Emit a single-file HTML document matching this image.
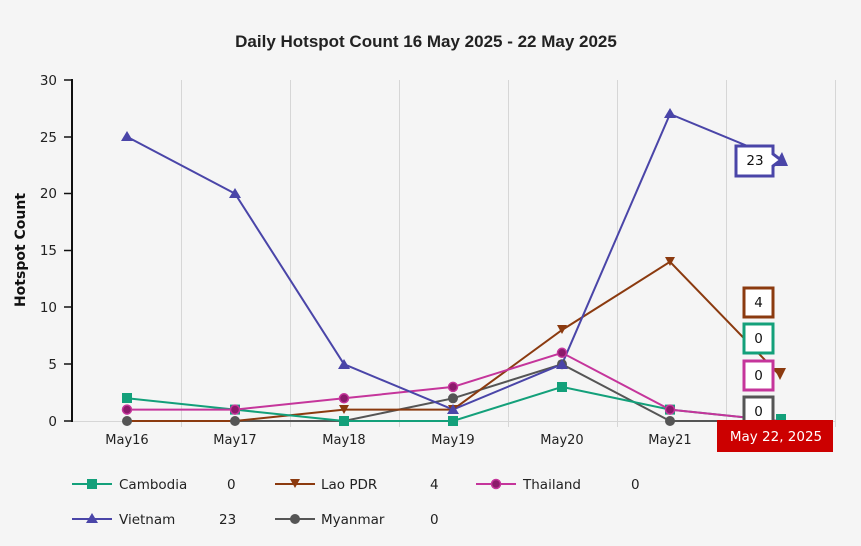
<!DOCTYPE html><html><head><meta charset="utf-8"><style>
body{margin:0;background:#f5f5f5;}
svg{display:block;font-family:"DejaVu Sans","Liberation Sans",sans-serif;}
</style></head><body>
<svg width="861" height="546" viewBox="0 0 861 546">
<rect width="861" height="546" fill="#f5f5f5"/>
<text x="426" y="47" text-anchor="middle" font-size="17" font-weight="bold" fill="#222" font-family="Liberation Sans, sans-serif">Daily Hotspot Count 16 May 2025 - 22 May 2025</text>
<g stroke="#d6d6d6" stroke-width="1">
<line x1="181.5" y1="80" x2="181.5" y2="427"/><line x1="290.5" y1="80" x2="290.5" y2="427"/><line x1="399.5" y1="80" x2="399.5" y2="427"/><line x1="508.5" y1="80" x2="508.5" y2="427"/><line x1="617.5" y1="80" x2="617.5" y2="427"/><line x1="726.5" y1="80" x2="726.5" y2="427"/><line x1="835.5" y1="80" x2="835.5" y2="427"/>
<line x1="72" y1="421.5" x2="835" y2="421.5"/>
</g>
<line x1="72" y1="79" x2="72" y2="422" stroke="#111" stroke-width="2"/>
<g stroke="#111" stroke-width="1.5"><line x1="64" y1="80" x2="72" y2="80"/><line x1="64" y1="137" x2="72" y2="137"/><line x1="64" y1="193.5" x2="72" y2="193.5"/><line x1="64" y1="250.5" x2="72" y2="250.5"/><line x1="64" y1="307" x2="72" y2="307"/><line x1="64" y1="364" x2="72" y2="364"/><line x1="64" y1="421" x2="72" y2="421"/></g>
<g font-size="13.5" fill="#222" text-anchor="end">
<text x="57" y="85">30</text><text x="57" y="142">25</text><text x="57" y="198">20</text><text x="57" y="255">15</text><text x="57" y="312">10</text><text x="57" y="369">5</text><text x="57" y="426">0</text></g>
<text transform="translate(25,250) rotate(-90)" text-anchor="middle" font-size="14" font-weight="bold" fill="#111">Hotspot Count</text>
<g font-size="13" fill="#222" text-anchor="middle">
<text x="127" y="444">May16</text><text x="235" y="444">May17</text><text x="344" y="444">May18</text><text x="453" y="444">May19</text><text x="562" y="444">May20</text><text x="670" y="444">May21</text></g>
<polyline fill="none" stroke="#555" stroke-width="2" points="127,421 235,421 344,421 453,398.3 562,364.2 670,421 780,421"/>
<polyline fill="none" stroke="#8b3a0f" stroke-width="2" points="127,421 235,421 344,409.6 453,409.6 562,330 670,261.8 780,375.5"/>
<polyline fill="none" stroke="#13a07a" stroke-width="2" points="127,398.3 235,409.6 344,421 453,421 562,386.9 670,409.6 780,421"/>
<polyline fill="none" stroke="#c5359b" stroke-width="2" points="127,409.6 235,409.6 344,398.3 453,386.9 562,352.8 670,409.6 780,421"/>
<polyline fill="none" stroke="#4a45a8" stroke-width="2" points="127,136.8 235,193.6 344,364.2 453,409.6 562,364.2 670,114 780,159.5"/>
<g fill="#555"><circle cx="127" cy="421" r="5"/><circle cx="235" cy="421" r="5"/><circle cx="344" cy="421" r="5"/><circle cx="453" cy="398.3" r="5"/><circle cx="562" cy="364.2" r="5"/><circle cx="670" cy="421" r="5"/></g>
<g fill="#8b3a0f"><path d="M339,405h10l-5,9z"/><path d="M448,405h10l-5,9z"/><path d="M557,325h10l-5,9z"/><path d="M665,257h10l-5,9z"/><path d="M774,368h12l-6,12z"/></g>
<g fill="#13a07a"><rect x="122" y="393" width="10" height="10"/><rect x="230" y="404.6" width="10" height="10"/><rect x="339" y="416" width="10" height="10"/><rect x="448" y="416" width="10" height="10"/><rect x="557" y="382" width="10" height="10"/><rect x="665" y="404.6" width="10" height="10"/><rect x="776" y="414" width="10" height="10"/></g>
<g fill="#8b1a6b" stroke="#c5359b" stroke-width="1.5"><circle cx="127" cy="409.6" r="4.5"/><circle cx="235" cy="409.6" r="4.5"/><circle cx="344" cy="398.3" r="4.5"/><circle cx="453" cy="386.9" r="4.5"/><circle cx="562" cy="352.8" r="4.5"/><circle cx="670" cy="409.6" r="4.5"/></g>
<g fill="#4a45a8"><path d="M127,131l6,10h-12z"/><path d="M235,188l6,10h-12z"/><path d="M344,359l6,10h-12z"/><path d="M453,404l6,10h-12z"/><path d="M562,359l6,10h-12z"/><path d="M670,108l6,10h-12z"/><path d="M782,152l6,14h-14z"/></g>
<g font-size="13.5" fill="#111" text-anchor="middle" stroke-width="3">
<path d="M736,146h37v8l8,6l-8,6v10h-37z" fill="#fff" stroke="#4a45a8"/><text x="755" y="165" stroke="none">23</text>
<rect x="744" y="288" width="29" height="29" fill="#fff" stroke="#8b3a0f"/><text x="758.5" y="307" stroke="none">4</text>
<rect x="744" y="324" width="29" height="29" fill="#fff" stroke="#13a07a"/><text x="758.5" y="343" stroke="none">0</text>
<rect x="744" y="361" width="29" height="29" fill="#fff" stroke="#c5359b"/><text x="758.5" y="380" stroke="none">0</text>
<rect x="744" y="397" width="29" height="28" fill="#fff" stroke="#555"/><text x="758.5" y="416" stroke="none">0</text>
</g>
<rect x="717" y="420" width="116" height="32" fill="#cc0000"/>
<text x="776" y="441" text-anchor="middle" font-size="13.5" fill="#fff">May 22, 2025</text>
<g font-size="13.5" fill="#222">
<line x1="72" y1="484" x2="112" y2="484" stroke="#13a07a" stroke-width="2"/><rect x="87" y="479" width="10" height="10" fill="#13a07a"/>
<text x="119" y="489">Cambodia</text><text x="227" y="489">0</text>
<line x1="275" y1="484" x2="315" y2="484" stroke="#8b3a0f" stroke-width="2"/><path d="M290,479h10l-5,9z" fill="#8b3a0f"/>
<text x="321" y="489">Lao PDR</text><text x="430" y="489">4</text>
<line x1="476" y1="484" x2="516" y2="484" stroke="#c5359b" stroke-width="2"/><circle cx="496" cy="484" r="4.5" fill="#8b1a6b" stroke="#c5359b" stroke-width="1.5"/>
<text x="523" y="489">Thailand</text><text x="631" y="489">0</text>
<line x1="72" y1="519" x2="112" y2="519" stroke="#4a45a8" stroke-width="2"/><path d="M92,513l6,10h-12z" fill="#4a45a8"/>
<text x="119" y="524">Vietnam</text><text x="219" y="524">23</text>
<line x1="275" y1="519" x2="315" y2="519" stroke="#555" stroke-width="2"/><circle cx="295" cy="519" r="5" fill="#555"/>
<text x="321" y="524">Myanmar</text><text x="430" y="524">0</text>
</g>
</svg>
</body></html>
